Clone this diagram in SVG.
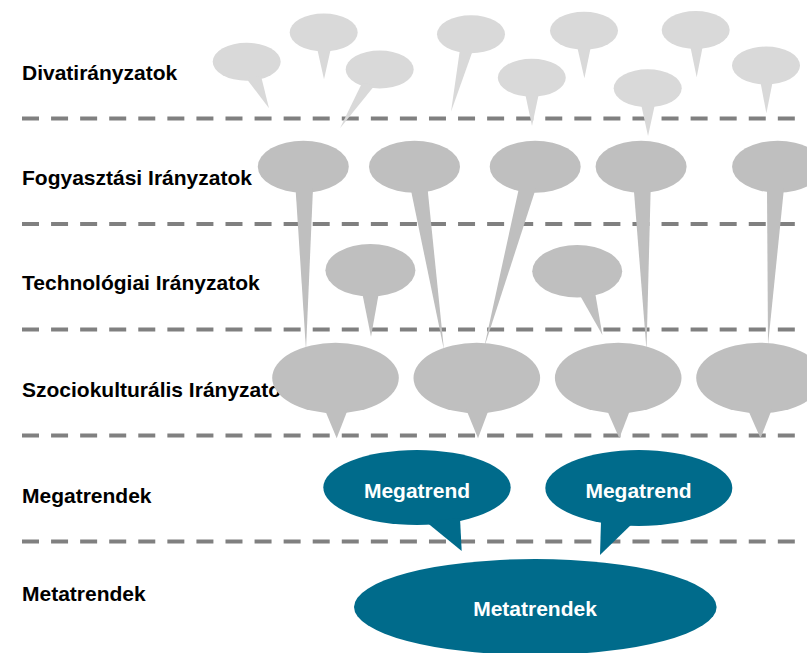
<svg xmlns="http://www.w3.org/2000/svg" width="807" height="653" viewBox="0 0 807 653">
<defs>
<style>
.lbl{font-family:"Liberation Sans",Arial,Helvetica,sans-serif;font-weight:bold;font-size:21px;fill:#000}
.wt{font-family:"Liberation Sans",Arial,Helvetica,sans-serif;font-weight:bold;font-size:21px;fill:#fff;text-anchor:middle}
.sep{stroke:#808080;stroke-width:4;stroke-dasharray:17 12.07;fill:none}
.lt{fill:#d9d9d9}
.md{fill:#bfbfbf}
.tl{fill:#006b8b}
</style>
</defs>
<rect width="807" height="653" fill="#fff"/>
<g id="labels">
<text class="lbl" x="22" y="80">Divatirányzatok</text>
<text class="lbl" x="22" y="185">Fogyasztási Irányzatok</text>
<text class="lbl" x="22" y="290">Technológiai Irányzatok</text>
<text class="lbl" x="22" y="397">Szociokulturális Irányzatok</text>
<text class="lbl" x="22" y="503">Megatrendek</text>
<text class="lbl" x="22" y="601">Metatrendek</text>
</g>
<g id="separators">
<line class="sep" x1="22" y1="118.5" x2="795" y2="118.5"/>
<line class="sep" x1="22" y1="224" x2="795" y2="224"/>
<line class="sep" x1="22" y1="329.5" x2="795" y2="329.5"/>
<line class="sep" x1="22" y1="435.5" x2="795" y2="435.5"/>
<line class="sep" x1="22" y1="541.5" x2="795" y2="541.5"/>
</g>
<g id="divat">
<g id="d1" class="lt"><ellipse cx="246.7" cy="61.7" rx="34" ry="19"/><polygon points="246,78 261,76 269,108.3"/></g>
<g id="d2" class="lt"><ellipse cx="323.7" cy="32.5" rx="34" ry="19"/><polygon points="317,48 331,48 324,79.3"/></g>
<g id="d3" class="lt"><ellipse cx="379.7" cy="69.5" rx="34" ry="19"/><polygon points="362,83 375,85 340,128.3"/></g>
<g id="d4" class="lt"><ellipse cx="471" cy="34.2" rx="34" ry="19"/><polygon points="460,49 473,50 451,111.7"/></g>
<g id="d5" class="lt"><ellipse cx="531.8" cy="77.7" rx="34" ry="19"/><polygon points="525,93 539,93 532,126"/></g>
<g id="d6" class="lt"><ellipse cx="584" cy="30.8" rx="34" ry="19"/><polygon points="577,46 591,46 584.4,78.3"/></g>
<g id="d7" class="lt"><ellipse cx="647.7" cy="88.3" rx="34" ry="19"/><polygon points="641,104 655,104 648,136"/></g>
<g id="d8" class="lt"><ellipse cx="695.7" cy="30" rx="34" ry="19"/><polygon points="690,45 703,45 696.7,77.3"/></g>
<g id="d9" class="lt"><ellipse cx="766" cy="65.5" rx="34" ry="19"/><polygon points="760,80 773,80 766.4,113.3"/></g>
</g>
<g id="fogyasztasi">
<g id="f1" class="md"><ellipse cx="303.3" cy="166.7" rx="45.5" ry="26"/><polygon points="295.5,188 313,188 306,350"/></g>
<g id="f2" class="md"><ellipse cx="414.5" cy="166.7" rx="45.5" ry="26"/><polygon points="410.5,188 427.5,188 444,350"/></g>
<g id="f3" class="md"><ellipse cx="535.2" cy="166.7" rx="45.5" ry="26"/><polygon points="519,188 536,188 484,348"/></g>
<g id="f4" class="md"><ellipse cx="641.1" cy="166.7" rx="45.5" ry="26"/><polygon points="633.7,188 650.7,188 646.5,350"/></g>
<g id="f5" class="md"><ellipse cx="777.6" cy="166.7" rx="45.5" ry="26"/><polygon points="767,188 784,188 768,345"/></g>
</g>
<g id="technologiai">
<g id="t1" class="md"><ellipse cx="370.4" cy="270.3" rx="45" ry="26.3"/><polygon points="362,292 379,292 371,336.7"/></g>
<g id="t2" class="md"><ellipse cx="577.2" cy="271.3" rx="45" ry="26.3"/><polygon points="578.6,293 595,292 602.4,335"/></g>
</g>
<g id="szociokulturalis">
<g id="s1" class="md"><ellipse cx="335.5" cy="378" rx="63.3" ry="35.3"/><polygon points="324.5,409 348,409 336.7,438.3"/></g>
<g id="s2" class="md"><ellipse cx="476.8" cy="378" rx="63.3" ry="35.3"/><polygon points="466,409 489,409 478,438.3"/></g>
<g id="s3" class="md"><ellipse cx="618.2" cy="378" rx="63.3" ry="35.3"/><polygon points="606.5,409 630.5,409 619.3,438.3"/></g>
<g id="s4" class="md"><ellipse cx="759.5" cy="378" rx="63.3" ry="35.3"/><polygon points="747.6,409 772,409 760.5,438.3"/></g>
</g>
<g id="megatrend1"><g class="tl"><ellipse cx="417" cy="487.5" rx="93.7" ry="37.5"/><polygon points="425,521 460,518 461.7,551"/></g><text class="wt" x="417" y="497.5">Megatrend</text></g>
<g id="megatrend2"><g class="tl"><ellipse cx="638.8" cy="488" rx="93.5" ry="38"/><polygon points="601,521 635,521 600,555"/></g><text class="wt" x="638.5" y="497.5">Megatrend</text></g>
<g id="metatrendek"><ellipse class="tl" cx="535.3" cy="607" rx="181.3" ry="48"/><text class="wt" x="535" y="615.5">Metatrendek</text></g>
</svg>
